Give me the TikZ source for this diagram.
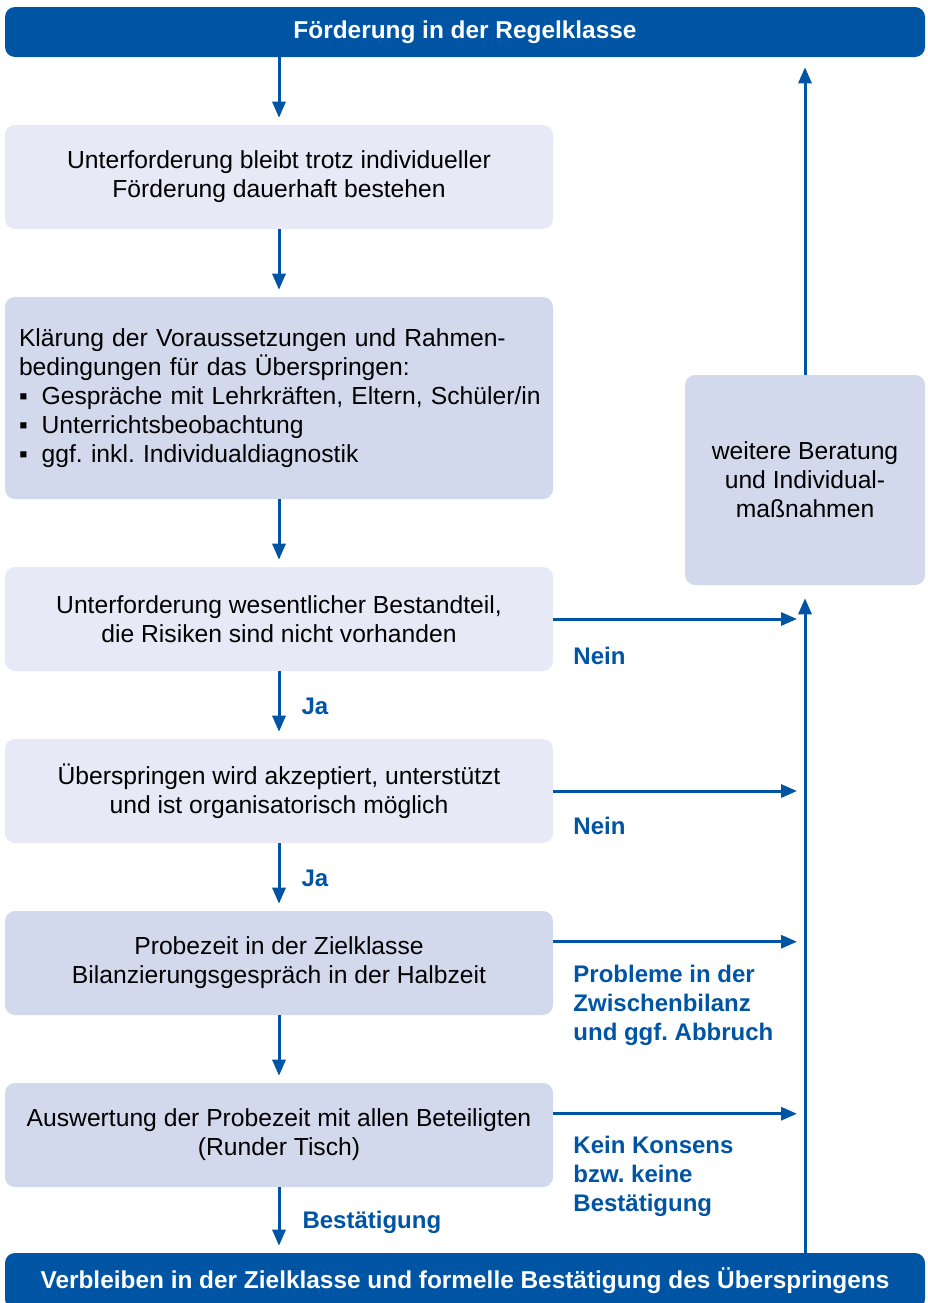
\documentclass[tikz,border=0pt]{standalone}
\usepackage{fontspec}
\setmainfont{Liberation Sans}
\usetikzlibrary{arrows.meta,positioning}
\definecolor{dblau}{RGB}{0,84,164}
\definecolor{hellblau}{RGB}{231,233,246}
\definecolor{mittelblau}{RGB}{211,217,237}
\newcommand{\punkt}{\makebox[17pt][l]{▪}}

\begin{document}
\begin{tikzpicture}[x=0.75pt,y=-0.75pt,>={Triangle[length=12pt,width=9.75pt]},
        every node/.style={font=\fontsize{18.5}{21.75}\selectfont\frenchspacing},
        balken/.style={fill=dblau,rounded corners=7.5pt,minimum width=690pt,text=white,font=\fontsize{18.3}{21.75}\selectfont\bfseries},
        kasten/.style={rounded corners=7.5pt,minimum width=411pt,minimum height=78pt,align=center,inner sep=0pt},
        hell/.style={kasten,fill=hellblau},
        mittel/.style={kasten,fill=mittelblau},
        lab/.style={text=dblau,font=\fontsize{18}{21.75}\selectfont\bfseries\frenchspacing,align=left,inner sep=0pt},
        pfeil/.style={dblau,line width=2.25pt,->}]
        \useasboundingbox (0,0) rectangle (928,1303);
        \node[balken,minimum height=37.5pt] (regel) at (465,32) {Förderung in der Regelklasse};
        \node[hell] (unter) at (279,177) {Unterforderung bleibt trotz individueller\\Förderung dauerhaft bestehen};
        \node[mittel,minimum height=151.5pt,text width=390pt,align=left] (klaer) at (279,398)
            {Klärung der Voraussetzungen und Rahmen-\\bedingungen für das Überspringen:\\\mbox{\punkt Gespräche mit Lehrkräften, Eltern, Schüler/in}\\\punkt Unterrichtsbeobachtung\\\punkt ggf. inkl. Individualdiagnostik};
        \node[hell] (wesent) at (279,619) {Unterforderung wesentlicher Bestandteil,\\die Risiken sind nicht vorhanden};
        \node[hell] (akzept) at (279,791) {Überspringen wird akzeptiert, unterstützt\\und ist organisatorisch möglich};
        \node[mittel] (probe) at (279,963) {Probezeit in der Zielklasse\\Bilanzierungsgespräch in der Halbzeit};
        \node[mittel] (auswert) at (279,1135) {Auswertung der Probezeit mit allen Beteiligten\\(Runder Tisch)};
        \node[balken,minimum height=42pt] (verbl) at (465,1281) {Verbleiben in der Zielklasse und formelle Bestätigung des Überspringens};
        \node[mittel,minimum width=180pt,minimum height=157.5pt] (weitere) at (805,480) {weitere Beratung\\und Individual-\\maßnahmen};

        % Hauptweg
        \path[pfeil,shorten >=5.25pt]
        (regel.south -| unter.north) edge (unter.north)
        (unter.south) edge (klaer.north)
        (klaer.south) edge (wesent.north)
        (wesent.south) edge node[lab,right,xshift=15.75pt,yshift=-0.75pt] {Ja} (akzept.north)
        (akzept.south) edge node[lab,right,xshift=15.75pt,yshift=-0.75pt] {Ja} (probe.north)
        (probe.south) edge (auswert.north)
        (auswert.south) edge node[lab,right,xshift=16.5pt,yshift=-2pt] {Bestätigung} (verbl.north -| auswert.south);

        % Abzweigungen nach rechts
        \path[pfeil,shorten >=6pt]
        (wesent.east) edge node[lab,at start,anchor=west,xshift=14pt,yshift=-27.75pt] {Nein} (wesent.east -| weitere.south)
        (akzept.east) edge node[lab,at start,anchor=west,xshift=14pt,yshift=-26.25pt] {Nein} (akzept.east -| weitere.south)
        ([yshift=-23.25pt]probe.north east) edge node[lab,at start,anchor=west,xshift=14pt,yshift=-48pt] {Probleme in der\\Zwischenbilanz\\und ggf. Abbruch} ([yshift=-23.25pt]probe.north east -| weitere.south)
        ([yshift=-23.25pt]auswert.north east) edge node[lab,at start,anchor=west,xshift=14pt,yshift=-47.25pt] {Kein Konsens\\bzw. keine\\Bestätigung} ([yshift=-23.25pt]auswert.north east -| weitere.south);

        % Rueckweg
        \draw[pfeil,shorten >=9.75pt] (verbl.north -| weitere.south) -- (weitere.south);
        \draw[pfeil,shorten >=7.5pt] (weitere.north) -- (weitere.north |- regel.south);
\end{tikzpicture}
\end{document}
